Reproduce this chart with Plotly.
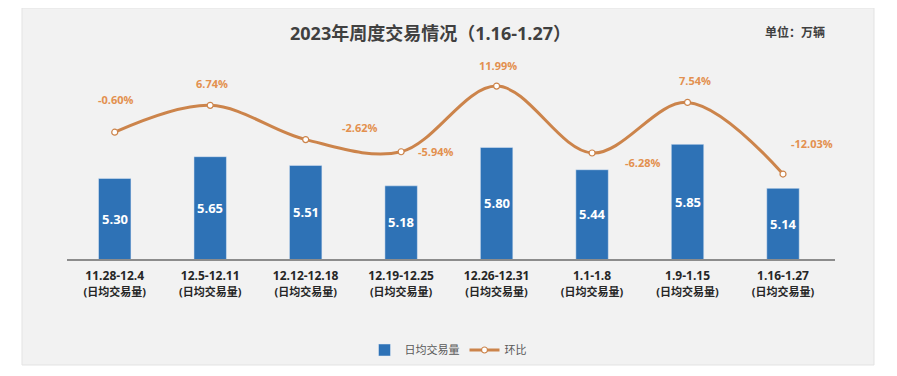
import plotly.graph_objects as go

categories = ["11.28-12.4", "12.5-12.11", "12.12-12.18", "12.19-12.25",
              "12.26-12.31", "1.1-1.8", "1.9-1.15", "1.16-1.27"]
volume = [5.30, 5.65, 5.51, 5.18, 5.80, 5.44, 5.85, 5.14]
mom_pct = [-0.60, 6.74, -2.62, -5.94, 11.99, -6.28, 7.54, -12.03]
tick_sub = "(日均交易量)"

# label offsets (pixels) for the ring-ratio labels (style only)
lab_dx = [1, 2, 54, 35, 1, 51, 7, 29]
lab_dy = [33, 22, 12, 0, 21, -10, 22, 31]

OFF = 8  # page body margin
W, H = 897 - 2 * OFF, 376 - 2 * OFF
# plot area in window pixels
PL, PR, PT, PB = 67, 835, 60, 259
L, R, T, B = PL - OFF, W - (PR - OFF), PT - OFF, H - (PB - OFF)
plot_h = PB - PT
plot_w = PR - PL

FONT = "Open Sans, Noto Sans CJK SC, sans-serif"
BLUE = "#2e72b6"
ORANGE = "#cc844b"
LABEL_OR = "#e3904f"

px_per_unit = 62.0
px_per_pct = 3.66
zero_px = 130  # window y of 0%
y1_range = [4.0, 4.0 + plot_h / px_per_unit]
y2_range = [-(PB - zero_px) / px_per_pct, (zero_px - PT) / px_per_pct]

ticktext = [f"<b>{c}</b><br><span style='font-size:11px'><b>{tick_sub}</b></span>" for c in categories]

fig = go.Figure()
fig.add_trace(go.Bar(
    x=categories, y=volume, name="日均交易量",
    marker=dict(color=BLUE), width=0.34,
))
fig.add_trace(go.Scatter(
    x=categories, y=mom_pct, name="环比", yaxis="y2",
    mode="lines+markers",
    line=dict(color=ORANGE, width=3, shape="spline", smoothing=1.0),
    marker=dict(color="white", size=6, line=dict(color=ORANGE, width=1.2)),
))

# value labels centred inside bars
for c, v in zip(categories, volume):
    fig.add_annotation(x=c, y=(y1_range[0] + v) / 2, xref="x", yref="y",
                       text=f"<b>{v:.2f}</b>", showarrow=False,
                       font=dict(color="white", size=13, family=FONT))

for c, v, dx, dy in zip(categories, mom_pct, lab_dx, lab_dy):
    fig.add_annotation(x=c, y=v, xref="x", yref="y2", text=f"<b>{v:.2f}%</b>",
                       showarrow=False, xshift=dx, yshift=dy,
                       font=dict(color=LABEL_OR, size=11, family=FONT))


def px2paper_x(px):
    return (px - PL) / plot_w


def px2paper_y(py):
    return (PB - py) / plot_h


# grey card background
fig.add_shape(type="rect", xref="paper", yref="paper", layer="below",
              x0=px2paper_x(22), x1=px2paper_x(874),
              y0=px2paper_y(365), y1=px2paper_y(8),
              fillcolor="#f2f2f2", line=dict(color="#e3e3e3", width=1))

fig.add_annotation(xref="paper", yref="paper", x=px2paper_x(430), y=px2paper_y(33),
                   text="<b>2023年周度交易情况（1.16-1.27）</b>", showarrow=False,
                   font=dict(size=18, color="#404040", family=FONT),
                   xanchor="center", yanchor="middle")
fig.add_annotation(xref="paper", yref="paper", x=px2paper_x(795), y=px2paper_y(33),
                   text="<b>单位：万辆</b>", showarrow=False,
                   font=dict(size=12, color="#404040", family=FONT),
                   xanchor="center", yanchor="middle")

fig.update_layout(
    width=W, height=H,
    margin=dict(l=L, r=R, t=T, b=B, autoexpand=False),
    paper_bgcolor="white", plot_bgcolor="rgba(0,0,0,0)",
    font=dict(family=FONT, color="#262626"),
    showlegend=True,
    legend=dict(orientation="h", x=px2paper_x(448), xanchor="center", y=px2paper_y(350), yanchor="middle",
                font=dict(size=11, color="#595959"), bgcolor="rgba(0,0,0,0)",
                itemwidth=30, tracegroupgap=0),
    bargap=0.66,
    xaxis=dict(tickmode="array", tickvals=categories, ticktext=ticktext,
               showline=True, linecolor="#8c8c8c", linewidth=2,
               ticks="outside", ticklen=5, tickcolor="rgba(0,0,0,0)",
               tickfont=dict(size=12, color="#262626", family=FONT),
               showgrid=False, fixedrange=True),
    yaxis=dict(range=y1_range, visible=False, showgrid=False),
    yaxis2=dict(range=y2_range, overlaying="y", side="right", visible=False, showgrid=False),
)

fig.write_html("out.html")
